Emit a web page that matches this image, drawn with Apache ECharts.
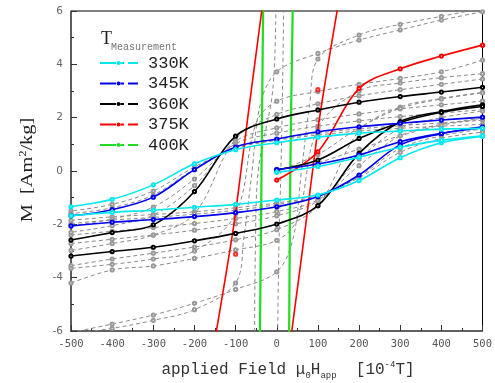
<!DOCTYPE html>
<html><head><meta charset="utf-8">
<script src="https://cdn.jsdelivr.net/npm/echarts@6/dist/echarts.min.js"></script>
<style>html,body{margin:0;padding:0;background:#fff}#c{width:495px;height:383px}</style>
</head><body><div id="c"></div>
<script>
// ---- tick labels / axes ----
const xTicks = [-500,-400,-300,-200,-100,0,100,200,300,400,500];
const yTicks = [-6,-4,-2,0,2,4,6];
const temps = ['330K','345K','360K','375K','400K'];

// ---- 330K (cyan) ----
const c330_desc = [[500,1.6],[400,1.57],[300,1.5],[200,1.42],[100,1.27],[0,1.06],[-100,0.8],[-200,0.27],[-300,-0.52],[-400,-1.06],[-500,-1.34]];
const c330_asc = [[-500,-1.68],[-400,-1.55],[-300,-1.47],[-200,-1.36],[-100,-1.25],[0,-1.09],[100,-0.9],[200,-0.36],[300,0.5],[400,1.06],[500,1.3]];
const c330_virgin = [[0,-0.05],[100,0.17],[200,0.52],[300,0.89],[400,1.15],[500,1.32]];
// ---- 345K (blue) ----
const b345_desc = [[500,2.02],[400,1.91],[300,1.79],[200,1.66],[100,1.47],[0,1.2],[-100,0.9],[-200,0.05],[-300,-0.98],[-400,-1.45],[-500,-1.68]];
const b345_asc = [[-500,-2.06],[-400,-1.92],[-300,-1.82],[-200,-1.71],[-100,-1.56],[0,-1.34],[100,-0.96],[200,-0.15],[300,0.98],[400,1.4],[500,1.66]];
const b345_virgin = [[0,0.05],[100,0.26],[200,0.6],[300,1.1],[400,1.41],[500,1.62]];
// ---- 360K (black) ----
const k360_desc = [[500,3.14],[400,2.96],[300,2.79],[200,2.58],[100,2.29],[0,1.95],[-100,1.31],[-200,-0.77],[-300,-2.02],[-400,-2.31],[-500,-2.59]];
const k360_asc = [[-500,-3.19],[-400,-3.02],[-300,-2.86],[-200,-2.62],[-100,-2.34],[0,-1.99],[100,-1.3],[200,0.66],[300,1.85],[400,2.23],[500,2.48]];
const k360_virgin = [[0,0.04],[100,0.41],[200,1.22],[300,1.82],[400,2.2],[500,2.42]];
// ---- 375K (red) ----
const r375_virgin = [[0,-0.34],[100,0.72],[200,3.1],[300,3.83],[400,4.31],[500,4.72]];
const r375_desc = [[-34,6.3],[-68,2.3],[-87,0],[-106,-2.2],[-150,-6.3]];
const r375_asc = [[34,-6.3],[68,-2.3],[87,0],[106,2.2],[150,6.3]];
const r375_marks = [[-100,-3.12],[100,3.05]];
// ---- 400K (green) ----
const g400_desc = [[-33,6.3],[-37,0],[-41,-6.3]];
const g400_asc = [[30,-6.3],[33,0],[39,6.3]];

// ---- other temperatures (gray dashed) ----
const gA_desc = [[500,1.75],[400,1.68],[300,1.6],[200,1.5],[100,1.35],[0,1.15],[-100,0.85],[-200,0.15],[-300,-0.75],[-400,-1.25],[-500,-1.5]];
const gA_asc = [[-500,-1.85],[-400,-1.72],[-300,-1.63],[-200,-1.53],[-100,-1.38],[0,-1.2],[100,-0.92],[200,-0.25],[300,0.7],[400,1.22],[500,1.46]];
const gB_desc = [[500,1.9],[400,1.8],[300,1.7],[200,1.58],[100,1.42],[0,1.18],[-100,0.88],[-200,0.08],[-300,-0.9],[-400,-1.38],[-500,-1.6]];
const gB_asc = [[-500,-1.97],[-400,-1.84],[-300,-1.74],[-200,-1.62],[-100,-1.47],[0,-1.26],[100,-0.95],[200,-0.2],[300,0.85],[400,1.32],[500,1.57]];
const gC_desc = [[500,2.3],[400,2.17],[300,2.04],[200,1.88],[100,1.68],[0,1.42],[-100,1.02],[-200,-0.3],[-300,-1.35],[-400,-1.8],[-500,-2.05]];
const gC_asc = [[-500,-2.4],[-400,-2.26],[-300,-2.12],[-200,-1.97],[-100,-1.78],[0,-1.52],[100,-1.08],[200,0.2],[300,1.32],[400,1.75],[500,1.98]];
const gC_virgin = [[0,0.06],[100,0.32],[200,0.82],[300,1.32],[400,1.72],[500,1.95]];
const gD_desc = [[500,2.62],[400,2.48],[300,2.33],[200,2.14],[100,1.92],[0,1.62],[-100,1.12],[-200,-0.55],[-300,-1.65],[-400,-2.05],[-500,-2.3]];
const gD_asc = [[-500,-2.72],[-400,-2.56],[-300,-2.4],[-200,-2.22],[-100,-1.98],[0,-1.68],[100,-1.12],[200,0.45],[300,1.6],[400,2.0],[500,2.25]];
const gE_desc = [[500,3.45],[400,3.25],[300,3.05],[200,2.82],[100,2.52],[0,2.12],[-100,1.2],[-200,-1.6],[-300,-2.4],[-400,-2.72],[-500,-2.98]];
const gE_asc = [[-500,-3.55],[-400,-3.3],[-300,-3.08],[-200,-2.85],[-100,-2.58],[0,-2.2],[100,-1.3],[200,1.5],[300,2.4],[400,2.72],[500,2.95]];
const gE_virgin = [[0,0.0],[100,0.62],[200,1.62],[300,2.35],[400,2.7],[500,2.93]];
const gF_desc = [[500,4.16],[400,3.72],[300,3.47],[200,3.25],[100,2.98],[0,2.62],[-50,1.8],[-100,-1.6],[-200,-3.0],[-300,-3.3],[-400,-3.5],[-500,-3.65]];
const gF_asc = [[-500,-4.2],[-400,-3.71],[-300,-3.56],[-200,-3.28],[-100,-2.96],[0,-2.6],[50,-1.8],[100,1.6],[200,3.0],[300,3.3],[400,3.5],[500,3.65]];
const gG_desc = [[500,5.97],[400,5.66],[300,5.29],[200,4.91],[100,4.41],[0,3.72],[-40,2.5],[-60,0],[-80,-2.5],[-100,-4.2],[-200,-5.2],[-300,-5.6],[-400,-5.9],[-500,-6.1]];
const gG_asc = [[-500,-6.06],[-400,-5.74],[-300,-5.4],[-200,-4.96],[-100,-4.44],[0,-3.78],[40,-2.5],[60,0],[80,2.5],[100,4.2],[200,5.1],[300,5.5],[400,5.8],[500,6.1]];
const gH_desc = [[-2,6.4],[-10,3],[-45,0],[-52,-3],[-54,-6.4]];
const gH_asc = [[2,-6.4],[5,-3],[10,0],[14,3],[17,6.4]];

const colors = {'330K':'#00e8f0','345K':'#0000ee','360K':'#000000','375K':'#ff0000','400K':'#1fdd1f'};

function pts(arr){ return arr.map(p => (p[0] % 100 === 0) ? p : {value:p, symbol:'none'}); }
function colored(name, arr, marks){
  return {type:'line', name:name, data: marks===false ? arr : pts(arr), smooth:0.35, z:3,
    symbol: marks===false ? 'none' : 'emptyCircle', symbolSize:3.2, clip:true,
    lineStyle:{color:colors[name], width: name==='400K'?2.2:1.6},
    itemStyle:{color:colors[name], borderWidth:0.9}, emphasis:{disabled:true}};
}
function gray(arr, marks){
  return {type:'line', name:'', data: marks===false ? arr : pts(arr), smooth:0.35, z:2,
    symbol: marks===false ? 'none' : 'emptyCircle', symbolSize:3.2, clip:true,
    lineStyle:{color:'#8a8a8a', width:1, type:[4,3]},
    itemStyle:{color:'#999', borderWidth:0.9}, emphasis:{disabled:true}};
}

const series = [
  gray(gA_desc), gray(gA_asc), gray(gB_desc), gray(gB_asc),
  gray(gC_desc), gray(gC_asc), gray(gC_virgin),
  gray(gD_desc), gray(gD_asc),
  gray(gE_desc), gray(gE_asc), gray(gE_virgin),
  gray(gF_desc), gray(gF_asc), gray(gG_desc), gray(gG_asc),
  gray(gH_desc,false), gray(gH_asc,false),
  colored('400K', g400_desc, false), colored('400K', g400_asc, false),
  colored('375K', r375_virgin), colored('375K', r375_desc, false), colored('375K', r375_asc, false),
  {type:'scatter', name:'375K', data:r375_marks, symbol:'emptyCircle', symbolSize:3.2, z:3,
   itemStyle:{color:colors['375K'], borderWidth:0.9}},
  colored('360K', k360_desc), colored('360K', k360_asc), colored('360K', k360_virgin),
  colored('345K', b345_desc), colored('345K', b345_asc), colored('345K', b345_virgin),
  colored('330K', c330_desc), colored('330K', c330_asc), colored('330K', c330_virgin)
];

const iconPath = 'path://M0,5.1H16V6.9H0Z M16.6,6A1.9,1.9,0,1,0,20.4,6A1.9,1.9,0,1,0,16.6,6Z M20,5.1H24V6.9H20Z M28,5.1H38V6.9H28Z';

const chart = echarts.init(document.getElementById('c'), null, {renderer:'canvas'});
chart.setOption({
  animation:false,
  backgroundColor:'#fff',
  grid:{left:71, right:8, top:11, bottom:52, show:true, borderColor:'#000', borderWidth:1},
  xAxis:{type:'value', min:xTicks[0], max:xTicks[xTicks.length-1], interval:100,
    axisLine:{show:true, onZero:false, lineStyle:{color:'#555', width:1.6}},
    axisTick:{show:true, inside:true, length:6, lineStyle:{color:'#333', width:1}},
    minorTick:{show:true, splitNumber:2, length:3, lineStyle:{color:'#333'}},
    splitLine:{show:false},
    axisLabel:{color:'#555', fontFamily:'DejaVu Sans Mono', fontSize:10.5, margin:8}},
  yAxis:{type:'value', min:yTicks[0], max:yTicks[yTicks.length-1], interval:2,
    axisLine:{show:true, onZero:false, lineStyle:{color:'#555', width:1.6}},
    axisTick:{show:true, inside:true, length:6, lineStyle:{color:'#333', width:1}},
    minorTick:{show:true, splitNumber:2, length:3, lineStyle:{color:'#333'}},
    splitLine:{show:false},
    axisLabel:{color:'#666', fontFamily:'DejaVu Sans', fontSize:10.5, margin:8}},
  legend:{data: temps.map(t => ({name:t, icon:iconPath})), orient:'vertical', left:100, top:53,
    itemWidth:38, itemHeight:3.8, itemGap:0.5, padding:0, selectedMode:false,
    textStyle:{fontFamily:'Liberation Mono', fontSize:17, color:'#222', lineHeight:20, padding:[0,0,0,5]}},
  graphic:[
    {type:'text', left:101, top:30, style:{text:'T', font:'18px "Liberation Serif"', fill:'#222'}},
    {type:'text', left:111, top:42, style:{text:'Measurement', font:'10px "Liberation Mono"', fill:'#777'}},
    {type:'text', x:288, y:370, style:{
      text:'{a|applied Field μ}{s|0}{a|H}{s|app}{a|  [10}{p|-4}{a|T]}',
      align:'center', verticalAlign:'middle',
      rich:{a:{font:'16px "Liberation Mono"', fill:'#333', lineHeight:20},
            s:{font:'9px "Liberation Mono"', fill:'#333', lineHeight:9, verticalAlign:'bottom'},
            p:{font:'9px "Liberation Mono"', fill:'#333', lineHeight:9, verticalAlign:'top'}}}},
    {type:'text', x:28, y:170, rotation:Math.PI/2, scaleX:1.2, style:{
      text:'{a|M  [Am}{p|2}{a|/kg]}', align:'center', verticalAlign:'middle',
      rich:{a:{font:'17px "Liberation Serif"', fill:'#222', lineHeight:20},
            p:{font:'10px "Liberation Serif"', fill:'#222', lineHeight:10, verticalAlign:'top'}}}}
  ],
  series: series
});
</script></body></html>
